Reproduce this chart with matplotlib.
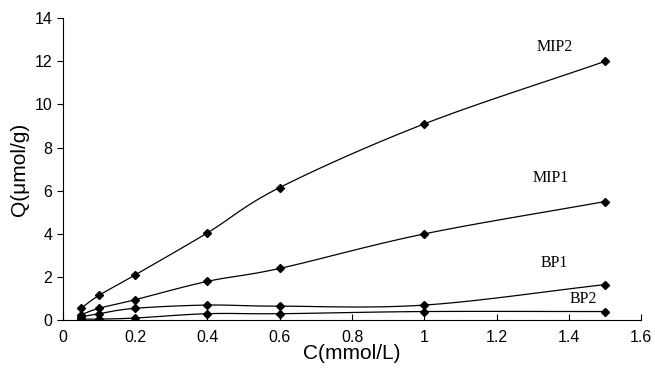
import numpy as np
import matplotlib
matplotlib.use("Agg")
import matplotlib.pyplot as plt

conc = [0.05, 0.1, 0.2, 0.4, 0.6, 1.0, 1.5]
mip2 = [0.55, 1.15, 2.1, 4.05, 6.15, 9.1, 12.0]
mip1 = [0.25, 0.55, 0.95, 1.8, 2.4, 4.0, 5.5]
bp1 = [0.15, 0.3, 0.55, 0.7, 0.65, 0.7, 1.65]
bp2 = [0.05, 0.05, 0.1, 0.3, 0.3, 0.4, 0.4]
names = ["MIP2", "MIP1", "BP1", "BP2"]
label_xy = [(1.36, 12.65), (1.35, 6.6), (1.36, 2.65), (1.44, 1.0)]


def smooth(x, y, n=20):
    # catmull-rom through the points, like excel's smoothed line
    x = np.asarray(x, float)
    y = np.asarray(y, float)
    px = np.concatenate([[2 * x[0] - x[1]], x, [2 * x[-1] - x[-2]]])
    py = np.concatenate([[2 * y[0] - y[1]], y, [2 * y[-1] - y[-2]]])
    xs, ys = [], []
    t = np.linspace(0, 1, n)
    for i in range(1, len(px) - 2):
        for p, out in ((px, xs), (py, ys)):
            p0, p1, p2, p3 = p[i - 1], p[i], p[i + 1], p[i + 2]
            out.extend(0.5 * (2 * p1 + (-p0 + p2) * t
                              + (2 * p0 - 5 * p1 + 4 * p2 - p3) * t ** 2
                              + (-p0 + 3 * p1 - 3 * p2 + p3) * t ** 3))
    return xs, ys


plt.rcParams['font.family'] = ['Liberation Sans', 'DejaVu Sans']

fig = plt.figure(figsize=(6.55, 3.71), dpi=100)
ax = fig.add_axes([0.096, 0.137, 0.883, 0.814])

for s in [mip2, mip1, bp1, bp2]:
    sx, sy = smooth(conc, s)
    ax.plot(sx, sy, color='black', lw=0.9)
    ax.plot(conc, s, 'D', color='black', ms=4)

for name, (lx, ly) in zip(names, label_xy):
    ax.text(lx, ly, name, fontsize=11.5, family='Liberation Serif',
            ha='center', va='center')

ax.set_xlim(0, 1.6)
ax.set_ylim(0, 14)
ax.set_xticks(np.arange(0, 1.61, 0.2))
ax.set_xticklabels(['0', '0.2', '0.4', '0.6', '0.8', '1', '1.2', '1.4', '1.6'])
ax.set_yticks(range(0, 15, 2))
ax.spines['top'].set_visible(False)
ax.spines['right'].set_visible(False)
ax.tick_params(axis='x', direction='in', length=4, labelsize=11.5, pad=7)
ax.tick_params(axis='y', direction='out', length=4, labelsize=11.5)
ax.set_xlabel('C(mmol/L)', fontsize=15, labelpad=-1)
ax.set_ylabel('Q(μmol/g)', fontsize=15, labelpad=4)

fig.savefig('out.png', dpi=100)
